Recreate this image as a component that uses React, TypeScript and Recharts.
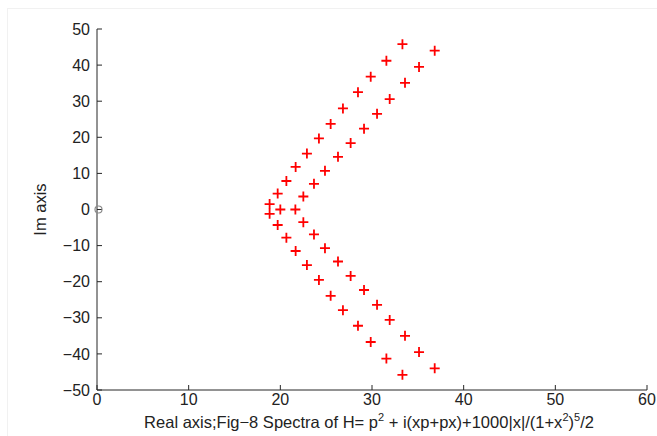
import React from "react";
import {
  ScatterChart,
  Scatter,
  XAxis,
  YAxis,
} from "recharts";

// eigenvalues, grouped by branch
const upperInnerRe = [18.83, 19.71, 20.66, 21.67, 22.9, 24.21, 25.49, 26.83, 28.47, 29.86, 31.57, 33.32];
const upperInnerIm = [1.5, 4.4, 7.9, 11.8, 15.5, 19.7, 23.7, 28.0, 32.5, 36.8, 41.2, 45.8];
const lowerInnerRe = [18.83, 19.71, 20.66, 21.67, 22.9, 24.21, 25.49, 26.83, 28.47, 29.86, 31.57, 33.32];
const lowerInnerIm = [-1.2, -4.3, -7.8, -11.5, -15.4, -19.5, -23.9, -27.9, -32.2, -36.7, -41.3, -45.8];
const upperOuterRe = [21.64, 22.51, 23.67, 24.87, 26.29, 27.67, 29.13, 30.55, 31.93, 33.6, 35.13, 36.84];
const upperOuterIm = [0, 3.6, 7.1, 10.7, 14.6, 18.4, 22.4, 26.5, 30.6, 35.1, 39.5, 44.0];
const lowerOuterRe = [22.51, 23.67, 24.87, 26.29, 27.67, 29.13, 30.55, 31.93, 33.6, 35.13, 36.84];
const lowerOuterIm = [-3.5, -6.9, -10.7, -14.4, -18.4, -22.3, -26.4, -30.6, -35.0, -39.5, -44.0];
const extraRe = [20.0];
const extraIm = [0];

const originRe = [0];
const originIm = [0];

const xTicks = [0, 10, 20, 30, 40, 50, 60];
const yTicks = [-50, -40, -30, -20, -10, 0, 10, 20, 30, 40, 50];

const zip = (re: number[], im: number[]) => re.map((x, i) => ({ x, y: im[i] }));

const spectrum = [
  ...zip(upperInnerRe, upperInnerIm),
  ...zip(lowerInnerRe, lowerInnerIm),
  ...zip(upperOuterRe, upperOuterIm),
  ...zip(lowerOuterRe, lowerOuterIm),
  ...zip(extraRe, extraIm),
];
const origin = zip(originRe, originIm);

const FONT = "'Liberation Sans', Arial, sans-serif";
const AXIS = "#262626";

const PlusMark = ({ cx, cy }: any) => (
  <path
    d={`M${cx - 5},${cy}H${cx + 5}M${cx},${cy - 5}V${cy + 5}`}
    stroke="#ff0000"
    strokeWidth={1.8}
    fill="none"
  />
);

const RingMark = ({ cx, cy }: any) => (
  <circle cx={cx + 1.5} cy={cy} r={3.5} stroke="#8a8a8a" strokeWidth={1.2} fill="none" />
);

const fmt = (v: number) => (v < 0 ? `\u2212${-v}` : `${v}`);

const XLabel = ({ viewBox }: any) => {
  const cx = viewBox.x + viewBox.width / 2 - 3;
  const y = viewBox.y + 38;
  return (
    <text x={cx} y={y} textAnchor="middle" fontFamily={FONT} fontSize={16.5} fill="#222">
      <tspan>Real axis;Fig−8 Spectra of H= p</tspan>
      <tspan dy={-7} fontSize={11}>2</tspan>
      <tspan dy={7}> + i(xp+px)+1000|x|/(1+x</tspan>
      <tspan dy={-7} fontSize={11}>2</tspan>
      <tspan dy={7}>)</tspan>
      <tspan dy={-7} fontSize={11}>5</tspan>
      <tspan dy={7}>/2</tspan>
    </text>
  );
};

const YLabel = ({ viewBox }: any) => {
  const cy = viewBox.y + viewBox.height / 2;
  const x = 46;
  return (
    <text
      x={x}
      y={cy}
      transform={`rotate(-90, ${x}, ${cy})`}
      textAnchor="middle"
      fontFamily={FONT}
      fontSize={16.5}
      fill="#222"
    >
      Im axis
    </text>
  );
};

const noTick = () => <g />;

export default function App() {
  return (
    <div style={{ position: "absolute", left: 0, top: 0, width: 657, height: 436, background: "#fff" }}>
      <style>{`body{margin:0}`}</style>
      <div
        style={{
          position: "absolute",
          left: 7,
          top: 8,
          right: 0,
          bottom: 0,
          borderTop: "1px solid #f1f1f1",
          borderLeft: "1px solid #f1f1f1",
        }}
      />
      <ScatterChart
        width={657}
        height={436}
        margin={{ top: 29, right: 10, bottom: 0, left: 0 }}
        style={{ position: "absolute", left: 0, top: 0 }}
      >
        <XAxis
          xAxisId="bottom"
          type="number"
          dataKey="x"
          domain={[0, 60]}
          ticks={xTicks}
          height={46}
          stroke={AXIS}
          tickSize={-5}
          tickMargin={9}
          tickFormatter={fmt}
          tick={{ fill: "#222", fontSize: 16, fontFamily: FONT }}
          label={<XLabel />}
        />
        <XAxis
          xAxisId="top"
          orientation="top"
          type="number"
          dataKey="x"
          domain={[0, 60]}
          ticks={xTicks}
          height={0}
          stroke={AXIS}
          tickSize={-5}
          tick={noTick}
        />
        <YAxis
          yAxisId="left"
          type="number"
          dataKey="y"
          domain={[-50, 50]}
          ticks={yTicks}
          width={97}
          stroke={AXIS}
          tickSize={-5}
          tickMargin={12}
          tickFormatter={fmt}
          tick={{ fill: "#222", fontSize: 16, fontFamily: FONT }}
          label={<YLabel />}
        />
        <YAxis
          yAxisId="right"
          orientation="right"
          type="number"
          dataKey="y"
          domain={[-50, 50]}
          ticks={yTicks}
          width={0}
          stroke={AXIS}
          tickSize={-5}
          tick={noTick}
        />
        <Scatter
          xAxisId="bottom"
          yAxisId="left"
          data={origin}
          shape={RingMark}
          isAnimationActive={false}
        />
        <Scatter
          xAxisId="bottom"
          yAxisId="left"
          data={spectrum}
          shape={PlusMark}
          isAnimationActive={false}
        />
      </ScatterChart>
    </div>
  );
}
